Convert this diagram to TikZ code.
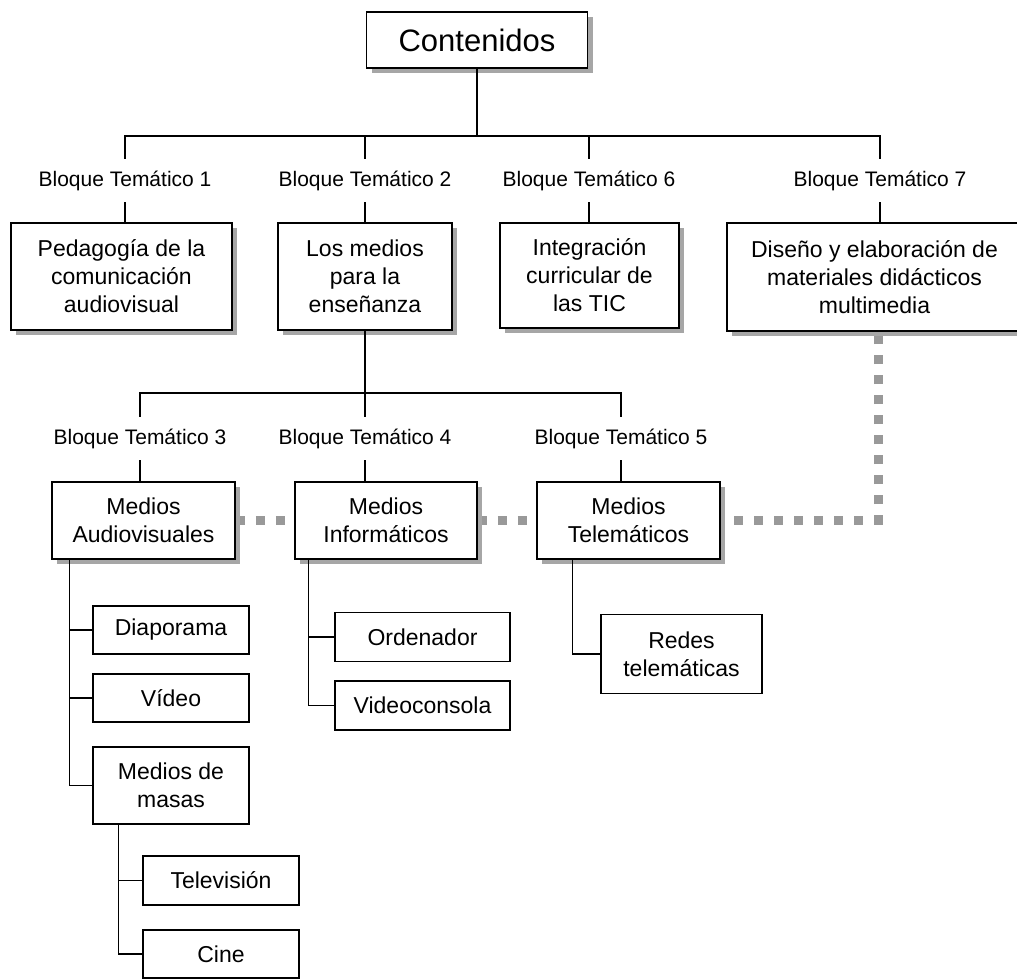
\documentclass[tikz,border=0pt]{standalone}
\usepackage{fontspec}
\setmainfont{Liberation Sans}
\usetikzlibrary{shadows}
\pgfdeclarelayer{background}
\pgfsetlayers{background,main}
\definecolor{dotgray}{HTML}{999999}
\begin{document}
\begin{tikzpicture}[x=1pt,y=-1pt,
  box/.style={draw=black, line width=1.6pt, fill=white, rectangle, inner sep=0pt, align=center, font=\fontsize{23}{28}\selectfont},
  sbox/.style={box, drop shadow={shadow xshift=5pt, shadow yshift=-5pt, fill=gray!70, opacity=1}},
  leaf/.style={box, line width=1.5pt},
  blabel/.style={inner sep=0pt, minimum height=43pt, font=\fontsize{21}{25}\selectfont},
  link/.style={draw=black, line width=1.3pt},
  dots/.style={draw=dotgray, line width=9pt, dash pattern=on 9pt off 11pt}]
\useasboundingbox (0,0) rectangle (1017,979);
\clip (0,0) rectangle (1017,979);

% top level
\node[sbox, minimum width=221pt, minimum height=56pt, font=\fontsize{31}{36}\selectfont] (cont) at (477,40) {Contenidos};
\node[blabel] (lab1) at (125,180.5) {Bloque Temático 1};
\node[blabel] (lab2) at (365,180.5) {Bloque Temático 2};
\node[blabel] (lab6) at (589,180.5) {Bloque Temático 6};
\node[blabel] (lab7) at (880,180.5) {Bloque Temático 7};
\node[sbox, minimum width=221pt, minimum height=107pt] (b1) at (121.5,276.5) {Pedagogía de la\\comunicación\\audiovisual};
\node[sbox, minimum width=174pt, minimum height=107pt] (b2) at (365,276.5) {Los medios\\para la\\enseñanza};
\node[sbox, minimum width=179pt, minimum height=105pt] (b6) at (589.5,275.5) {Integración\\curricular de\\las TIC};
\node[sbox, minimum width=295pt, minimum height=108pt] (b7) at (874.5,277) {Diseño y elaboración de\\materiales didácticos\\multimedia};

% second level
\node[blabel] (lab3) at (140,438.5) {Bloque Temático 3};
\node[blabel] (lab4) at (365,438.5) {Bloque Temático 4};
\node[blabel] (lab5) at (621,438.5) {Bloque Temático 5};
\node[sbox, minimum width=183pt, minimum height=77pt] (b3) at (143.5,520.5) {Medios\\Audiovisuales};
\node[sbox, minimum width=182pt, minimum height=77pt] (b4) at (386,520.5) {Medios\\Informáticos};
\node[sbox, minimum width=183pt, minimum height=77pt] (b5) at (628.5,520.5) {Medios\\Telemáticos};

% leaves
\node[leaf, minimum width=156pt, minimum height=48pt] (dia) at (171,630) {Diaporama};
\node[leaf, minimum width=156pt, minimum height=48pt] (vid) at (171,698) {Vídeo};
\node[leaf, minimum width=156pt, minimum height=77pt] (mm) at (171,785.5) {Medios de\\masas};
\node[leaf, minimum width=156pt, minimum height=49pt] (tv) at (221,880.5) {Televisión};
\node[leaf, minimum width=156pt, minimum height=48pt] (cine) at (221,954) {Cine};
\node[leaf, minimum width=175pt, minimum height=49pt] (ord) at (422.5,637) {Ordenador};
\node[leaf, minimum width=175pt, minimum height=49pt] (vc) at (422.5,705.5) {Videoconsola};
\node[leaf, minimum width=161pt, minimum height=79pt] (redes) at (681.5,654) {Redes\\telemáticas};

% connectors level 1
\coordinate (bar1) at (477,136);
\draw[link] (cont.south) -- (bar1);
\draw[link] (lab1.north) |- (bar1) -| (lab7.north);
\draw[link] (lab2.north) -- (lab2.north |- bar1);
\draw[link] (lab6.north) -- (lab6.north |- bar1);
\draw[link] (lab1.south) -- (lab1.south |- b1.north);
\draw[link] (lab2.south) -- (lab2.south |- b2.north);
\draw[link] (lab6.south) -- (lab6.south |- b6.north);
\draw[link] (lab7.south) -- (lab7.south |- b7.north);

% connectors level 2
\coordinate (bar2) at (365,393);
\draw[link] (b2.south) -- (lab4.north);
\draw[link] (lab3.north) |- (bar2) -| (lab5.north);
\draw[link] (lab3.south) -- (lab3.south |- b3.north);
\draw[link] (lab4.south) -- (lab4.south |- b4.north);
\draw[link] (lab5.south) -- (lab5.south |- b5.north);

% trunks
\coordinate (t3) at ([xshift=18pt]b3.south west);
\draw[link] (t3) |- (mm.west);
\draw[link] (t3 |- dia.west) -- (dia.west);
\draw[link] (t3 |- vid.west) -- (vid.west);
\coordinate (t8) at ([xshift=26pt]mm.south west);
\draw[link] (t8) |- (cine.west);
\draw[link] (t8 |- tv.west) -- (tv.west);
\coordinate (t4) at ([xshift=14pt]b4.south west);
\draw[link] (t4) |- (vc.west);
\draw[link] (t4 |- ord.west) -- (ord.west);
\coordinate (t5) at ([xshift=36pt]b5.south west);
\draw[link] (t5) |- (redes.west);

% dotted relations
\begin{pgfonlayer}{background}
\fill[white] (0,0) rectangle (1017,979);
\draw[dots] (b3.east) -- (b4.west);
\draw[dots] (b4.east) -- (b5.west);
\coordinate (d7) at ([xshift=3.5pt]b7.south);
\draw[dots, dash phase=6.5pt] (b5.east) -| (d7);
\end{pgfonlayer}
\end{tikzpicture}
\end{document}
